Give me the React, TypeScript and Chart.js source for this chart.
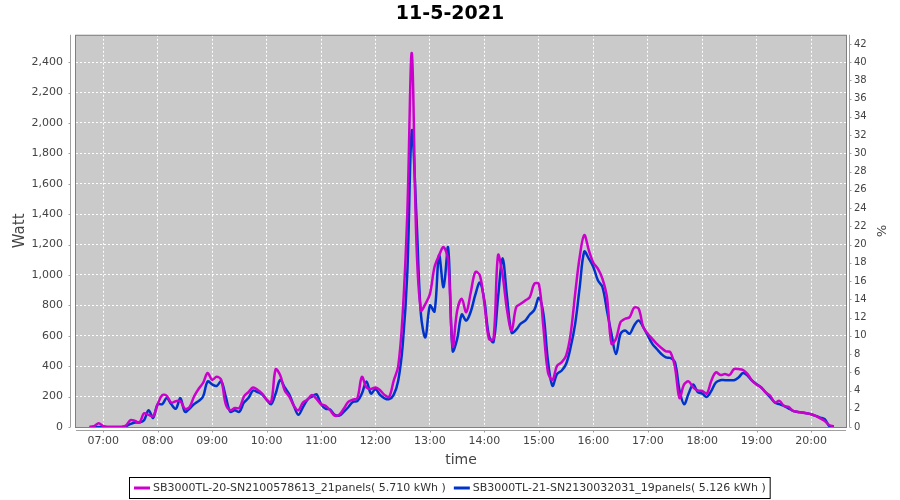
import React, { useEffect, useRef } from 'react';
import { Chart, registerables } from 'chart.js';

Chart.register(...registerables);

const chartTitle = '11-5-2021';
const seriesLabels = [
  'SB3000TL-20-SN2100578613_21panels( 5.710 kWh )',
  'SB3000TL-21-SN2130032031_19panels( 5.126 kWh )',
];
const seriesColors = ['rgb(204,0,204)', 'rgb(0,51,204)'];

const times = [
  '06:45', '06:50', '06:55',
  '07:00', '07:05', '07:10', '07:15', '07:20', '07:25', '07:30', '07:35', '07:40', '07:45', '07:50', '07:55',
  '08:00', '08:05', '08:10', '08:15', '08:20', '08:25', '08:30', '08:35', '08:40', '08:45', '08:50', '08:55',
  '09:00', '09:05', '09:10', '09:15', '09:20', '09:25', '09:30', '09:35', '09:40', '09:45', '09:50', '09:55',
  '10:00', '10:05', '10:10', '10:15', '10:20', '10:25', '10:30', '10:35', '10:40', '10:45', '10:50', '10:55',
  '11:00', '11:05', '11:10', '11:15', '11:20', '11:25', '11:30', '11:35', '11:40', '11:45', '11:50', '11:55',
  '12:00', '12:05', '12:10', '12:15', '12:20', '12:25', '12:30', '12:35', '12:40', '12:45', '12:50', '12:55',
  '13:00', '13:05', '13:10', '13:15', '13:20', '13:25', '13:30', '13:35', '13:40', '13:45', '13:50', '13:55',
  '14:00', '14:05', '14:10', '14:15', '14:20', '14:25', '14:30', '14:35', '14:40', '14:45', '14:50', '14:55',
  '15:00', '15:05', '15:10', '15:15', '15:20', '15:25', '15:30', '15:35', '15:40', '15:45', '15:50', '15:55',
  '16:00', '16:05', '16:10', '16:15', '16:20', '16:25', '16:30', '16:35', '16:40', '16:45', '16:50', '16:55',
  '17:00', '17:05', '17:10', '17:15', '17:20', '17:25', '17:30', '17:35', '17:40', '17:45', '17:50', '17:55',
  '18:00', '18:05', '18:10', '18:15', '18:20', '18:25', '18:30', '18:35', '18:40', '18:45', '18:50', '18:55',
  '19:00', '19:05', '19:10', '19:15', '19:20', '19:25', '19:30', '19:35', '19:40', '19:45', '19:50', '19:55',
  '20:00', '20:05', '20:10', '20:15', '20:20', '20:25',
];

const inverter20Watt = [
  0, 5, 25,
  5, 0, 0, 0, 0, 10, 45, 40, 30, 90, 80, 70,
  150, 210, 205, 160, 170, 170, 120, 130, 200, 250, 290, 355,
  310, 330, 310, 150, 110, 125, 125, 200, 230, 260, 245, 220,
  180, 165, 380, 340, 240, 200, 140, 110, 160, 180, 210, 185,
  150, 140, 110, 75, 80, 120, 165, 180, 190, 330, 260, 250,
  260, 242, 211, 198, 304, 400, 750, 1400, 2460, 1228, 766, 810,
  876, 1052, 1129, 1184, 1096, 530, 766, 843, 755, 887, 1019, 997,
  810, 580, 580, 1130, 1000, 766, 634, 788, 810, 832, 854, 942,
  940, 656, 360, 310, 403, 425, 470, 613, 877, 1120, 1263, 1164,
  1080, 1042, 976, 855, 547, 580, 690, 712, 723, 785, 778, 657,
  613, 580, 547, 520, 498, 491, 392, 190, 280, 300, 260, 240,
  238, 220, 304, 359, 342, 348, 342, 381, 381, 375, 348, 304,
  278, 260, 227, 205, 161, 172, 139, 132, 106, 101, 95, 90,
  84, 73, 57, 40, 13, 5,
];

const inverter21Watt = [
  0, 0, 0,
  0, 0, 0, 0, 0, 5, 20, 30, 30, 45, 110, 60,
  150, 150, 190, 150, 120, 190, 100, 120, 150, 170, 200, 300,
  280, 270, 300, 200, 100, 110, 100, 160, 190, 240, 230, 215,
  180, 150, 220, 310, 260, 215, 140, 80, 130, 180, 200, 215,
  150, 120, 115, 80, 75, 100, 130, 165, 170, 220, 300, 220,
  249, 211, 189, 183, 211, 304, 540, 1008, 1950, 1400, 744, 590,
  800, 760, 1130, 920, 1180, 500, 580, 740, 700, 760, 870, 950,
  830, 600, 560, 850, 1110, 850, 620, 640, 680, 700, 740, 770,
  850, 745, 436, 271, 348, 370, 414, 524, 679, 921, 1153, 1108,
  1053, 965, 921, 767, 613, 480, 613, 635, 613, 668, 701, 657,
  602, 547, 513, 480, 458, 454, 425, 240, 150, 220, 280, 230,
  220, 198, 238, 293, 308, 308, 308, 308, 326, 355, 337, 304,
  282, 260, 227, 194, 161, 150, 139, 123, 106, 99, 95, 90,
  84, 73, 62, 51, 7, 0,
];

const hourTicks = [7, 8, 9, 10, 11, 12, 13, 14, 15, 16, 17, 18, 19, 20];
const wattTicks = [0, 200, 400, 600, 800, 1000, 1200, 1400, 1600, 1800, 2000, 2200, 2400];
const percentTicks = [0, 2, 4, 6, 8, 10, 12, 14, 16, 18, 20, 22, 24, 26, 28, 30, 32, 34, 36, 38, 40, 42];

const toHours = (s: string) => {
  const [h, m] = s.split(':').map(Number);
  return h + m / 60;
};
const fmtHour = (v: number) => `${String(Math.floor(v)).padStart(2, '0')}:00`;

const FONT = '"DejaVu Sans", sans-serif';
const TICK_COLOR = '#444444';

const plotDecor = {
  id: 'plotDecor',
  beforeDraw(chart: any) {
    const { ctx, chartArea: a } = chart;
    ctx.save();
    ctx.fillStyle = '#cacaca';
    ctx.fillRect(a.left, a.top, a.right - a.left, a.bottom - a.top);
    ctx.restore();
  },
  afterDraw(chart: any) {
    const { ctx, chartArea: a, scales } = chart;
    ctx.save();
    ctx.strokeStyle = '#808080';
    ctx.lineWidth = 1;
    ctx.strokeRect(a.left - 0.5, a.top + 0.5, a.right - a.left + 1, a.bottom - a.top);
    ctx.strokeStyle = '#a0a0a0';
    const lx = a.left - 5.5;
    const rx = a.right + 3.5;
    const by = a.bottom + 3.5;
    ctx.beginPath();
    ctx.moveTo(lx, a.top);
    ctx.lineTo(lx, a.bottom);
    ctx.moveTo(rx, a.top);
    ctx.lineTo(rx, a.bottom);
    ctx.moveTo(a.left, by);
    ctx.lineTo(a.right, by);
    ctx.stroke();
    ctx.beginPath();
    for (const v of wattTicks) {
      const y = Math.round(scales.y.getPixelForValue(v)) + 0.5;
      ctx.moveTo(lx - 2, y);
      ctx.lineTo(lx, y);
    }
    for (const v of percentTicks) {
      const y = Math.round(scales.y2.getPixelForValue(v)) + 0.5;
      ctx.moveTo(rx, y);
      ctx.lineTo(rx + 2, y);
    }
    for (const v of hourTicks) {
      const x = Math.round(scales.x.getPixelForValue(v)) + 0.5;
      ctx.moveTo(x, by);
      ctx.lineTo(x, by + 2);
    }
    ctx.stroke();

    // legend
    ctx.font = `11px ${FONT}`;
    ctx.textBaseline = 'middle';
    const sw = 16, gap = 3, spacing = 8, pad = 4;
    const widths = seriesLabels.map((t) => ctx.measureText(t).width);
    const total = widths.reduce((s, w) => s + sw + gap + w, 0) + spacing * (widths.length - 1);
    const cx = 450;
    const cy = 488;
    let x = Math.round(cx - total / 2);
    ctx.strokeStyle = '#000000';
    ctx.lineWidth = 1;
    ctx.strokeRect(x - pad - 0.5, 477.5, total + 2 * pad + 1, 21);
    seriesLabels.forEach((t, i) => {
      ctx.strokeStyle = seriesColors[i];
      ctx.lineWidth = 3;
      ctx.beginPath();
      ctx.moveTo(x, cy);
      ctx.lineTo(x + sw, cy);
      ctx.stroke();
      x += sw + gap;
      ctx.fillStyle = '#333333';
      ctx.fillText(t, x, cy);
      x += widths[i] + spacing;
    });
    ctx.restore();
  },
};

export default function App() {
  const ref = useRef<HTMLCanvasElement>(null);

  useEffect(() => {
    if (!ref.current) return;
    const mk = (vals: number[]) => vals.map((v, i) => ({ x: toHours(times[i]), y: v }));
    const chart = new Chart(ref.current, {
      type: 'line',
      data: {
        datasets: [
          {
            label: seriesLabels[0],
            data: mk(inverter20Watt),
            borderColor: seriesColors[0],
            backgroundColor: seriesColors[0],
            borderWidth: 2.5,
            pointRadius: 0,
            tension: 0.35,
            yAxisID: 'y',
          },
          {
            label: seriesLabels[1],
            data: mk(inverter21Watt),
            borderColor: seriesColors[1],
            backgroundColor: seriesColors[1],
            borderWidth: 2.5,
            pointRadius: 0,
            tension: 0.35,
            yAxisID: 'y',
          },
        ],
      },
      options: {
        animation: false,
        responsive: false,
        devicePixelRatio: 1,
        layout: { padding: { left: 0, right: 0, top: 0, bottom: 27 } },
        plugins: {
          legend: { display: false },
          tooltip: { enabled: false },
          title: {
            display: true,
            text: chartTitle,
            color: '#000000',
            font: { family: FONT, size: 19, weight: 'bold' },
            padding: { top: 3, bottom: 9 },
          },
        },
        scales: {
          x: {
            type: 'linear',
            position: 'bottom',
            min: 6.5,
            max: 20.64,
            afterBuildTicks: (axis: any) => {
              axis.ticks = hourTicks.map((v) => ({ value: v }));
            },
            afterFit: (axis: any) => {
              axis.height = 46;
            },
            ticks: {
              callback: (v: any) => fmtHour(Number(v)),
              color: TICK_COLOR,
              font: { family: FONT, size: 11 },
              padding: 8,
              maxRotation: 0,
              autoSkip: false,
            },
            grid: { color: 'rgba(255,255,255,0.95)', drawTicks: false, lineWidth: 1 },
            border: { display: false, dash: [2, 2] },
            title: {
              display: true,
              text: 'time',
              color: TICK_COLOR,
              font: { family: FONT, size: 14 },
              padding: { top: 0, bottom: 4 },
            },
          },
          y: {
            type: 'linear',
            position: 'left',
            min: 0,
            max: 2580,
            afterBuildTicks: (axis: any) => {
              axis.ticks = wattTicks.map((v) => ({ value: v }));
            },
            afterFit: (axis: any) => {
              axis.width = 76;
            },
            ticks: {
              callback: (v: any) => Number(v).toLocaleString('en-US'),
              color: TICK_COLOR,
              font: { family: FONT, size: 11 },
              padding: 13,
            },
            grid: { color: 'rgba(255,255,255,0.95)', drawTicks: false, lineWidth: 1 },
            border: { display: false, dash: [2, 2] },
            title: {
              display: true,
              text: 'Watt',
              color: TICK_COLOR,
              font: { family: FONT, size: 15 },
              padding: { top: 11, bottom: 0 },
            },
          },
          y2: {
            type: 'linear',
            position: 'right',
            min: 0,
            max: 43,
            afterBuildTicks: (axis: any) => {
              axis.ticks = percentTicks.map((v) => ({ value: v }));
            },
            afterFit: (axis: any) => {
              axis.width = 54;
            },
            ticks: {
              color: TICK_COLOR,
              font: { family: FONT, size: 10 },
              padding: 8,
            },
            grid: { drawOnChartArea: false, drawTicks: false },
            border: { display: false },
            title: {
              display: true,
              text: '%',
              color: TICK_COLOR,
              font: { family: FONT, size: 13 },
              padding: { top: 12, bottom: 0 },
            },
          },
        },
      } as any,
      plugins: [plotDecor],
    });
    return () => chart.destroy();
  }, []);

  return (
    <div style={{ position: 'fixed', left: 0, top: 0, width: 900, height: 500, background: '#ffffff' }}>
      <canvas ref={ref} width={900} height={500} style={{ display: 'block' }} />
    </div>
  );
}
